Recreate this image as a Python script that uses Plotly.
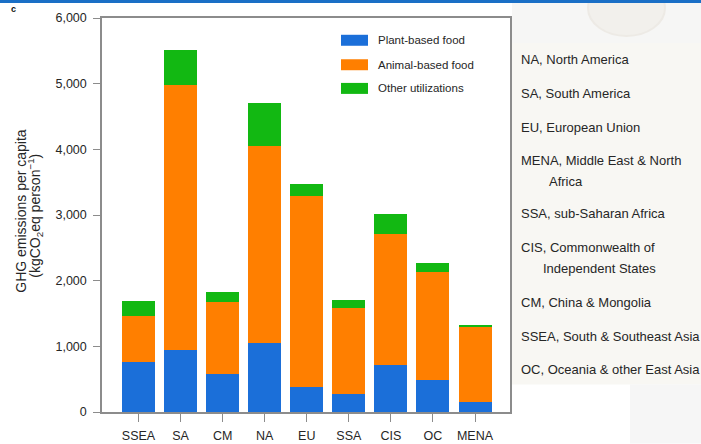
import plotly.graph_objects as go

# Per-capita GHG emissions by region (kgCO2eq per person), stacked by use
regions = ["SSEA", "SA", "CM", "NA", "EU", "SSA", "CIS", "OC", "MENA"]
plant_based = [765, 945, 585, 1055, 375, 275, 715, 495, 145]
animal_based = [690, 4030, 1090, 3000, 2920, 1315, 1990, 1635, 1145]
other_uses = [240, 540, 160, 655, 180, 120, 310, 135, 40]

series_names = ["Plant-based food", "Animal-based food", "Other utilizations"]
series_colors = ["#1b6fd9", "#ff7f00", "#12b812"]

y_ticks = [0, 1000, 2000, 3000, 4000, 5000, 6000]

region_notes = [
    "NA, North America",
    "SA, South America",
    "EU, European Union",
    "MENA, Middle East & North",
    "Africa",
    "SSA, sub-Saharan Africa",
    "CIS, Commonwealth of",
    "Independent States",
    "CM, China & Mongolia",
    "SSEA, South & Southeast Asia",
    "OC, Oceania & other East Asia",
]

W, H = 701, 444
L, R, T, B = 102, 510, 18, 412.5


def px(x):
    return (x - L) / (R - L)


def py(y):
    return (B - y) / (B - T)


fig = go.Figure()
for name, vals, col in zip(series_names, [plant_based, animal_based, other_uses], series_colors):
    fig.add_trace(go.Bar(
        x=regions, y=vals, name=name, marker=dict(color=col, line=dict(width=0)),
        width=0.785, showlegend=False,
    ))

axis_col = "#8c8c8c"
text_col = "#262626"
font_family = "Liberation Sans, Arial, sans-serif"

fig.update_layout(
    width=W, height=H,
    margin=dict(l=L, r=W - R, t=T, b=H - B, pad=0, autoexpand=False),
    paper_bgcolor="white", plot_bgcolor="white",
    barmode="stack",
    font=dict(family=font_family, color=text_col),
    xaxis=dict(
        type="category", range=[-0.868, 8.832],
        showline=True, linecolor=axis_col, linewidth=1.5, mirror=True,
        ticks="outside", ticklen=8, tickwidth=1.3, tickcolor=axis_col,
        tickfont=dict(size=12.5, color=text_col), showgrid=False, automargin=False,
        ticklabelstandoff=3,
    ),
    yaxis=dict(
        range=[0, 6000], tickvals=y_ticks, tickformat=",",
        showline=True, linecolor=axis_col, linewidth=1.5, mirror=True,
        ticks="outside", ticklen=7, tickwidth=1.3, tickcolor=axis_col,
        tickfont=dict(size=12.5, color=text_col), showgrid=False, zeroline=False,
        ticklabelstandoff=4, automargin=False,
    ),
)

shapes = []
annotations = []

# Right-hand panel with region abbreviations
shapes.append(dict(type="rect", xref="paper", yref="paper", layer="below",
                   x0=px(512), x1=px(701), y0=py(385), y1=py(43),
                   fillcolor="#f8f7f3", line=dict(width=0)))
shapes.append(dict(type="rect", xref="paper", yref="paper", layer="below",
                   x0=px(512), x1=px(701), y0=py(43), y1=py(3),
                   fillcolor="#f6f6f5", line=dict(width=0)))
shapes.append(dict(type="circle", xref="paper", yref="paper", layer="below",
                   x0=px(588), x1=px(665), y0=py(36), y1=py(-20),
                   fillcolor="#f2f0ec", line=dict(color="#edeae5", width=2)))
shapes.append(dict(type="rect", xref="paper", yref="paper", layer="below",
                   x0=px(630), x1=px(701), y0=py(444), y1=py(385),
                   fillcolor="#f6f6f6", line=dict(width=0)))
# Header strip
shapes.append(dict(type="rect", xref="paper", yref="paper",
                   x0=px(0), x1=px(701), y0=py(3), y1=py(0),
                   fillcolor="#1a6fc6", line=dict(width=0)))

note_y = [60, 93.5, 127.5, 161, 181.5, 213.5, 248, 269, 302.5, 336.5, 370]
note_x = [519, 519, 519, 519, 547, 519, 519, 541, 519, 519, 519]
for txt, yy, xx in zip(region_notes, note_y, note_x):
    annotations.append(dict(text=txt, xref="paper", yref="paper", x=px(xx), y=py(yy),
                            xanchor="left", yanchor="middle", showarrow=False,
                            font=dict(size=13, color=text_col, family=font_family)))

# Legend drawn inside the plot area
leg_y = [40.3, 64.8, 88.5]
for name, col, yy in zip(series_names, series_colors, leg_y):
    shapes.append(dict(type="rect", xref="paper", yref="paper",
                       x0=px(341), x1=px(368), y0=py(yy + 5.5), y1=py(yy - 5.5),
                       fillcolor=col, line=dict(width=0)))
    annotations.append(dict(text=name, xref="paper", yref="paper", x=px(376), y=py(yy),
                            xanchor="left", yanchor="middle", showarrow=False,
                            font=dict(size=11.5, color=text_col, family=font_family)))

# Y axis title in two lines
annotations.append(dict(text="GHG emissions per capita", xref="paper", yref="paper",
                        x=px(21), y=py(211), textangle=-90, showarrow=False,
                        xanchor="center", yanchor="middle",
                        font=dict(size=14, color=text_col, family=font_family)))
annotations.append(dict(text="(kgCO<sub>2</sub>eq person<sup>\u22121</sup>)", xref="paper", yref="paper",
                        x=px(35), y=py(216), textangle=-90, showarrow=False,
                        xanchor="center", yanchor="middle",
                        font=dict(size=14, color=text_col, family=font_family)))

# Panel letter
annotations.append(dict(text="<b>c</b>", xref="paper", yref="paper", x=px(13), y=py(9),
                        showarrow=False, xanchor="center", yanchor="middle",
                        font=dict(size=9, color="#111", family=font_family)))

fig.update_layout(shapes=shapes, annotations=annotations)

fig.write_html("out.html")
